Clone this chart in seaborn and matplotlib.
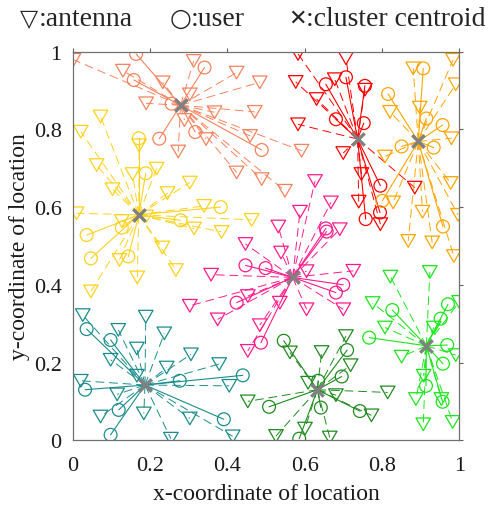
import numpy as np
import pandas as pd
import matplotlib
matplotlib.use("Agg")
import matplotlib.pyplot as plt
from matplotlib.path import Path
import seaborn as sns

sns.set_theme(style="white")
plt.rcParams['font.family'] = ['Liberation Serif', 'DejaVu Sans']

# ---------------- data ----------------
cluster_names = ["salmon", "red", "orange", "gold", "magenta", "teal", "dgreen", "lime"]
cluster_colors = ["#F8825C", "#FF0000", "#FFA500", "#FFD21A", "#FF1A8C", "#1A8C8C", "#1F8A1F", "#19E619"]

centroid_x = [0.279, 0.737, 0.894, 0.171, 0.569, 0.187, 0.633, 0.915]
centroid_y = [0.862, 0.775, 0.769, 0.580, 0.419, 0.142, 0.130, 0.243]

salmon_ant_x = [0.002, 0.130, 0.233, 0.313, 0.424, 0.484, 0.190, 0.303, 0.367, 0.471, 0.289, 0.345, 0.459, 0.273, 0.424, 0.489, 0.592, 0.549]
salmon_ant_y = [0.979, 0.951, 0.921, 0.976, 0.946, 0.921, 0.867, 0.890, 0.844, 0.845, 0.824, 0.775, 0.783, 0.743, 0.689, 0.672, 0.745, 0.642]
salmon_usr_x = [0.164, 0.341, 0.158, 0.256, 0.317, 0.224, 0.489]
salmon_usr_y = [0.994, 0.959, 0.927, 0.866, 0.793, 0.776, 0.747]

red_ant_x = [0.583, 0.707, 0.577, 0.678, 0.756, 0.631, 0.583, 0.700, 0.747, 0.885, 0.740, 0.796]
red_ant_y = [0.994, 0.983, 0.922, 0.929, 0.902, 0.878, 0.813, 0.739, 0.685, 0.650, 0.614, 0.556]
red_usr_x = [0.707, 0.655, 0.756, 0.681, 0.753, 0.796, 0.795, 0.758]
red_usr_y = [0.934, 0.916, 0.912, 0.826, 0.816, 0.655, 0.586, 0.569]

orange_ant_x = [0.881, 0.984, 0.991, 0.821, 0.898, 0.980, 0.808, 0.978, 0.829, 0.905, 0.997, 0.868, 0.930, 0.986]
orange_ant_y = [0.957, 0.979, 0.916, 0.845, 0.856, 0.777, 0.730, 0.662, 0.612, 0.588, 0.580, 0.513, 0.509, 0.474]
orange_usr_x = [0.907, 0.816, 0.915, 0.957, 0.851, 0.934, 0.801, 0.958]
orange_usr_y = [0.957, 0.891, 0.828, 0.811, 0.756, 0.753, 0.616, 0.550]

gold_ant_x = [0.072, 0.021, 0.172, 0.062, 0.155, 0.217, 0.103, 0.303, 0.245, 0.010, 0.340, 0.463, 0.127, 0.190, 0.314, 0.385, 0.121, 0.232, 0.267, 0.167, 0.047]
gold_ant_y = [0.833, 0.794, 0.759, 0.708, 0.685, 0.699, 0.646, 0.663, 0.636, 0.584, 0.603, 0.567, 0.564, 0.576, 0.545, 0.536, 0.464, 0.496, 0.438, 0.419, 0.383]
gold_usr_x = [0.171, 0.189, 0.383, 0.279, 0.036, 0.127, 0.047, 0.144]
gold_usr_y = [0.777, 0.687, 0.600, 0.566, 0.528, 0.547, 0.468, 0.473]

magenta_ant_x = [0.627, 0.668, 0.588, 0.532, 0.691, 0.447, 0.539, 0.605, 0.726, 0.453, 0.536, 0.605, 0.700, 0.484, 0.453, 0.358, 0.303, 0.375]
magenta_ant_y = [0.667, 0.612, 0.588, 0.550, 0.543, 0.505, 0.483, 0.435, 0.436, 0.371, 0.354, 0.337, 0.337, 0.296, 0.230, 0.426, 0.346, 0.311]
magenta_usr_x = [0.655, 0.657, 0.447, 0.499, 0.700, 0.681, 0.424, 0.487]
magenta_usr_y = [0.545, 0.537, 0.450, 0.443, 0.400, 0.380, 0.354, 0.251]

teal_ant_x = [0.026, 0.189, 0.118, 0.237, 0.166, 0.098, 0.306, 0.243, 0.379, 0.166, 0.021, 0.405, 0.115, 0.072, 0.184, 0.303, 0.254, 0.414]
teal_ant_y = [0.322, 0.318, 0.284, 0.275, 0.236, 0.207, 0.221, 0.187, 0.196, 0.166, 0.153, 0.140, 0.118, 0.061, 0.069, 0.056, 0.004, 0.010]
teal_usr_x = [0.036, 0.098, 0.032, 0.277, 0.440, 0.119, 0.391, 0.098]
teal_usr_y = [0.286, 0.258, 0.130, 0.153, 0.167, 0.078, 0.054, 0.014]

dgreen_ant_x = [0.707, 0.562, 0.644, 0.719, 0.609, 0.681, 0.815, 0.773, 0.526, 0.601, 0.665, 0.453]
dgreen_ant_y = [0.268, 0.226, 0.227, 0.193, 0.148, 0.116, 0.123, 0.064, 0.011, 0.030, 0.007, 0.100]
dgreen_usr_x = [0.546, 0.710, 0.696, 0.635, 0.508, 0.642, 0.743, 0.586]
dgreen_usr_y = [0.256, 0.232, 0.164, 0.153, 0.086, 0.084, 0.075, 0.004]

lime_ant_x = [0.822, 0.924, 0.776, 1.000, 0.808, 0.934, 0.851, 0.991, 0.908, 0.888, 0.954, 0.907, 0.983]
lime_ant_y = [0.421, 0.433, 0.353, 0.356, 0.290, 0.290, 0.215, 0.219, 0.166, 0.106, 0.106, 0.041, 0.047]
lime_usr_x = [0.827, 0.971, 0.952, 0.767, 0.969, 0.958, 0.914, 0.957]
lime_usr_y = [0.335, 0.350, 0.313, 0.264, 0.245, 0.197, 0.140, 0.099]

tick_values = [0, 0.2, 0.4, 0.6, 0.8, 1]
tick_labels = ["0", "0.2", "0.4", "0.6", "0.8", "1"]

ant_x = [salmon_ant_x, red_ant_x, orange_ant_x, gold_ant_x, magenta_ant_x, teal_ant_x, dgreen_ant_x, lime_ant_x]
ant_y = [salmon_ant_y, red_ant_y, orange_ant_y, gold_ant_y, magenta_ant_y, teal_ant_y, dgreen_ant_y, lime_ant_y]
usr_x = [salmon_usr_x, red_usr_x, orange_usr_x, gold_usr_x, magenta_usr_x, teal_usr_x, dgreen_usr_x, lime_usr_x]
usr_y = [salmon_usr_y, red_usr_y, orange_usr_y, gold_usr_y, magenta_usr_y, teal_usr_y, dgreen_usr_y, lime_usr_y]

# ---------------- figure ----------------
fig = plt.figure(figsize=(4.88, 5.06), dpi=100)
ax = fig.add_axes([0.149, 0.128, 0.792, 0.768])

tri = Path([(-1, 0.866), (1, 0.866), (0, -0.866), (-1, 0.866)],
           [Path.MOVETO, Path.LINETO, Path.LINETO, Path.CLOSEPOLY])

for k in range(len(cluster_names)):
    col = cluster_colors[k]
    cx, cy = centroid_x[k], centroid_y[k]
    for px, py in zip(ant_x[k], ant_y[k]):
        ax.plot([cx, px], [cy, py], color=col, lw=0.7, ls=(0, (9, 5)), zorder=1)
    for px, py in zip(usr_x[k], usr_y[k]):
        ax.plot([cx, px], [cy, py], color=col, lw=0.8, ls='-', zorder=1)

for k in range(len(cluster_names)):
    col = cluster_colors[k]
    sns.scatterplot(x=ant_x[k], y=ant_y[k], marker=tri, s=110, facecolor='none',
                    edgecolor=col, linewidth=0.9, ax=ax, zorder=2, legend=False)
    sns.scatterplot(x=usr_x[k], y=usr_y[k], marker='o', s=85, facecolor='none',
                    edgecolor=col, linewidth=0.9, ax=ax, zorder=2, legend=False)

sns.scatterplot(x=centroid_x, y=centroid_y, marker='x', s=80, color='#808080',
                linewidth=2.4, ax=ax, zorder=3, legend=False)

ax.set_xlim(0, 1)
ax.set_ylim(0, 1)
ax.set_xticks(tick_values)
ax.set_xticklabels(tick_labels)
ax.set_yticks(tick_values)
ax.set_yticklabels(tick_labels)
ax.tick_params(direction='out', length=3, width=0.8, color='#606060',
               top=True, right=True, labelsize=16, labelcolor='#1a1a1a')
ax.tick_params(axis='x', pad=8)
ax.tick_params(axis='y', pad=5)
for sp in ax.spines.values():
    sp.set_visible(True)
    sp.set_color('#707070')
    sp.set_linewidth(0.9)

ax.set_xlabel("x-coordinate of location", fontsize=17, color='#1a1a1a', labelpad=6)
ax.set_ylabel("y-coordinate of location", fontsize=17, color='#1a1a1a', labelpad=3)

fam = ['Liberation Serif', 'DejaVu Sans']
ty = 1 - 19 / 506
fig.text(20 / 488, ty, "\u25BD", fontsize=17, family=['DejaVu Sans'], va='center', ha='left')
fig.text(39 / 488, ty, ":antenna", fontsize=20, family=fam, va='center', ha='left')
fig.text(170 / 488, ty, "\u25CB", fontsize=18, family=['DejaVu Sans'], va='center', ha='left')
fig.text(191 / 488, ty, ":user", fontsize=20, family=fam, va='center', ha='left')
fig.text(288 / 488, ty, "\u2715", fontsize=16, family=['DejaVu Sans'], va='center', ha='left')
fig.text(306 / 488, ty, ":cluster centroid", fontsize=20, family=fam, va='center', ha='left')

fig.savefig("out.png", dpi=100)
